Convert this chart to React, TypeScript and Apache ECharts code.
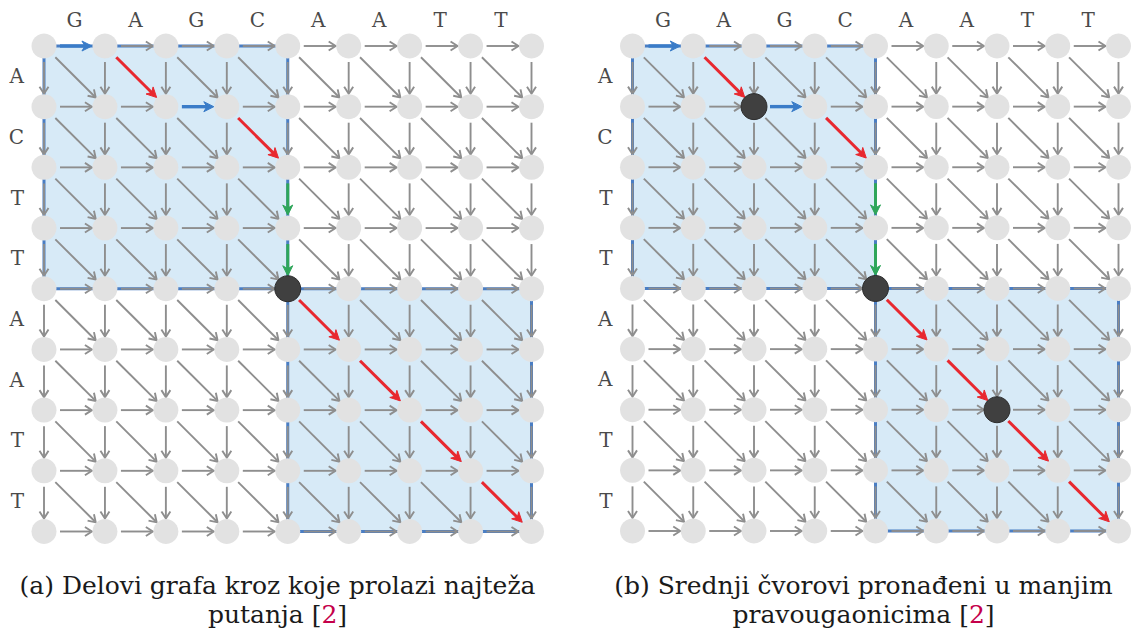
import React, { useEffect, useRef } from "react";
import * as echarts from "echarts";

// ---- data ----
const TOP_SEQ = ["G", "A", "G", "C", "A", "A", "T", "T"];
const LEFT_SEQ = ["A", "C", "T", "T", "A", "A", "T", "T"];
const NODE_COUNT = 9; // nodes per side (sequence length + 1)
// edges as [col0, row0, col1, row1]
const RED_EDGES = [
  [1, 0, 2, 1],
  [3, 1, 4, 2],
  [4, 4, 5, 5],
  [5, 5, 6, 6],
  [6, 6, 7, 7],
  [7, 7, 8, 8],
];
const BLUE_EDGES = [
  [0, 0, 1, 0],
  [2, 1, 3, 1],
];
const GREEN_EDGES = [
  [4, 2, 4, 3],
  [4, 3, 4, 4],
];
// rectangles as [col0, row0, col1, row1]
const RECTS = [
  [0, 0, 4, 4],
  [4, 4, 8, 8],
];
// dark (middle) nodes as [col, row]
const DARK_A = [[4, 4]];
const DARK_B = [
  [2, 1],
  [4, 4],
  [6, 6],
];
const CAPTION_A = ["(a) Delovi grafa kroz koje prolazi najteža", "putanja [", "2", "]"];
const CAPTION_B = ["(b) Srednji čvorovi pronađeni u manjim", "pravougaonicima [", "2", "]"];

// ---- helpers ----
const key = (e: number[]) => e.join(",");
const coloredKeys = new Set([...RED_EDGES, ...BLUE_EDGES, ...GREEN_EDGES].map(key));

const allNodes: number[][] = [];
const grayEdges: number[][] = [];
for (let r = 0; r < NODE_COUNT; r++) {
  for (let c = 0; c < NODE_COUNT; c++) {
    allNodes.push([c, r]);
    const cand: number[][] = [];
    if (c < NODE_COUNT - 1) cand.push([c, r, c + 1, r]);
    if (r < NODE_COUNT - 1) cand.push([c, r, c, r + 1]);
    if (c < NODE_COUNT - 1 && r < NODE_COUNT - 1) cand.push([c, r, c + 1, r + 1]);
    cand.forEach((e) => {
      if (!coloredKeys.has(key(e))) grayEdges.push(e);
    });
  }
}

const START_GAP = 16;
const END_GAP = 13;

function edgeRenderer(color: string, width: number, headLen: number, headHalf: number, filled: boolean) {
  return (params: any, api: any) => {
    const a = api.coord([api.value(0), api.value(1)]);
    const b = api.coord([api.value(2), api.value(3)]);
    const dx = b[0] - a[0];
    const dy = b[1] - a[1];
    const len = Math.hypot(dx, dy);
    const ux = dx / len;
    const uy = dy / len;
    const px = -uy;
    const py = ux;
    const sx = a[0] + ux * START_GAP;
    const sy = a[1] + uy * START_GAP;
    const ex = b[0] - ux * END_GAP;
    const ey = b[1] - uy * END_GAP;
    const bx = ex - ux * headLen;
    const by = ey - uy * headLen;
    const head = filled
      ? {
          type: "polygon",
          shape: {
            points: [
              [ex, ey],
              [bx + px * headHalf, by + py * headHalf],
              [ex - ux * headLen * 0.7, ey - uy * headLen * 0.7],
              [bx - px * headHalf, by - py * headHalf],
            ],
          },
          style: { fill: color, stroke: color, lineWidth: 1, lineJoin: "miter" },
        }
      : {
          type: "polyline",
          shape: {
            points: [
              [bx + px * headHalf, by + py * headHalf],
              [ex, ey],
              [bx - px * headHalf, by - py * headHalf],
            ],
          },
          style: { stroke: color, fill: null, lineWidth: width, lineJoin: "miter", lineCap: "butt" },
        };
    return {
      type: "group",
      children: [
        {
          type: "line",
          shape: {
            x1: sx,
            y1: sy,
            x2: ex - ux * (filled ? headLen * 0.5 : 1.5),
            y2: ey - uy * (filled ? headLen * 0.5 : 1.5),
          },
          style: { stroke: color, lineWidth: width },
        },
        head,
      ],
    };
  };
}

const rectRenderer = (params: any, api: any) => {
  const a = api.coord([api.value(0), api.value(1)]);
  const b = api.coord([api.value(2), api.value(3)]);
  return {
    type: "rect",
    shape: { x: a[0], y: a[1], width: b[0] - a[0], height: b[1] - a[1] },
    style: { fill: "#d7eaf7", stroke: "#4a7ec4", lineWidth: 3 },
  };
};

const GRIDS = [
  { left: 44, top: 46, width: 487.5, height: 485.5 },
  { left: 632.5, top: 46, width: 486, height: 485 },
];

export default function App() {
  const ref = useRef<HTMLDivElement>(null);
  useEffect(() => {
    if (!ref.current) return;
    const chart = echarts.init(ref.current, null, { renderer: "svg" });
    const letterStyle = {
      fontFamily: "DejaVu Serif",
      fontSize: 20,
      color: "#4a4a4a",
    };
    const xAxis: any[] = [];
    const yAxis: any[] = [];
    const series: any[] = [];
    GRIDS.forEach((g, p) => {
      xAxis.push({ gridIndex: p, type: "value", min: 0, max: NODE_COUNT - 1, show: false });
      yAxis.push({ gridIndex: p, type: "value", min: 0, max: NODE_COUNT - 1, inverse: true, show: false });
    });
    GRIDS.forEach((g, p) => {
      xAxis.push({
        gridIndex: p,
        type: "category",
        data: TOP_SEQ,
        position: "top",
        axisLine: { show: false },
        axisTick: { show: false },
        splitLine: { show: false },
        axisLabel: { ...letterStyle, margin: 16 },
      });
      yAxis.push({
        gridIndex: p,
        type: "category",
        data: LEFT_SEQ,
        inverse: true,
        position: "left",
        axisLine: { show: false },
        axisTick: { show: false },
        splitLine: { show: false },
        axisLabel: { ...letterStyle, margin: 20 },
      });
    });
    const darkSets = [DARK_A, DARK_B];
    GRIDS.forEach((g, p) => {
      const base = { xAxisIndex: p, yAxisIndex: p, silent: true };
      series.push({
        ...base,
        type: "custom",
        z: 1,
        clip: false,
        data: RECTS,
        encode: { x: [0, 2], y: [1, 3] },
        renderItem: rectRenderer,
      });
      series.push({
        ...base,
        type: "custom",
        z: 2,
        clip: false,
        data: grayEdges,
        encode: { x: [0, 2], y: [1, 3] },
        renderItem: edgeRenderer("#8e8e8e", 1.9, 7, 4.5, false),
      });
      series.push({
        ...base,
        type: "custom",
        z: 3,
        clip: false,
        data: RED_EDGES,
        encode: { x: [0, 2], y: [1, 3] },
        renderItem: edgeRenderer("#e8282f", 3, 10, 5, true),
      });
      series.push({
        ...base,
        type: "custom",
        z: 3,
        clip: false,
        data: BLUE_EDGES,
        encode: { x: [0, 2], y: [1, 3] },
        renderItem: edgeRenderer("#3a7cc8", 3.4, 10, 5, true),
      });
      series.push({
        ...base,
        type: "custom",
        z: 3,
        clip: false,
        data: GREEN_EDGES,
        encode: { x: [0, 2], y: [1, 3] },
        renderItem: edgeRenderer("#2fa65a", 3, 10, 5, true),
      });
      series.push({
        ...base,
        type: "scatter",
        z: 4,
        symbol: "circle",
        symbolSize: 25,
        itemStyle: { color: "#e2e2e2", opacity: 1 },
        data: allNodes,
      });
      series.push({
        ...base,
        type: "scatter",
        z: 5,
        symbol: "circle",
        symbolSize: 26,
        itemStyle: { color: "#404040", borderColor: "#2c2c2c", borderWidth: 1, opacity: 1 },
        data: darkSets[p],
      });
    });

    const capFont = { fontFamily: "DejaVu Serif", fontSize: 25, fill: "#1a1a1a" };
    const caption = (cap: string[], cx: number) => [
      {
        type: "text",
        x: cx,
        y: 585,
        silent: true,
        style: { ...capFont, text: cap[0], align: "center", verticalAlign: "middle" },
      },
      {
        type: "text",
        x: cx,
        y: 614,
        silent: true,
        style: {
          ...capFont,
          text: cap[1] + "{r|" + cap[2] + "}" + cap[3],
          align: "center",
          verticalAlign: "middle",
          rich: { r: { fill: "#c4004a", fontFamily: "DejaVu Serif", fontSize: 25 } },
        },
      },
    ];

    chart.setOption({
      animation: false,
      backgroundColor: "#ffffff",
      grid: GRIDS.map((g) => ({ ...g, containLabel: false })),
      xAxis,
      yAxis,
      series,
      graphic: [...caption(CAPTION_A, 277.5), ...caption(CAPTION_B, 863.5)],
    });
    return () => chart.dispose();
  }, []);
  return (
    <div
      ref={ref}
      style={{ position: "absolute", left: 0, top: 0, width: 1134, height: 634 }}
    />
  );
}
